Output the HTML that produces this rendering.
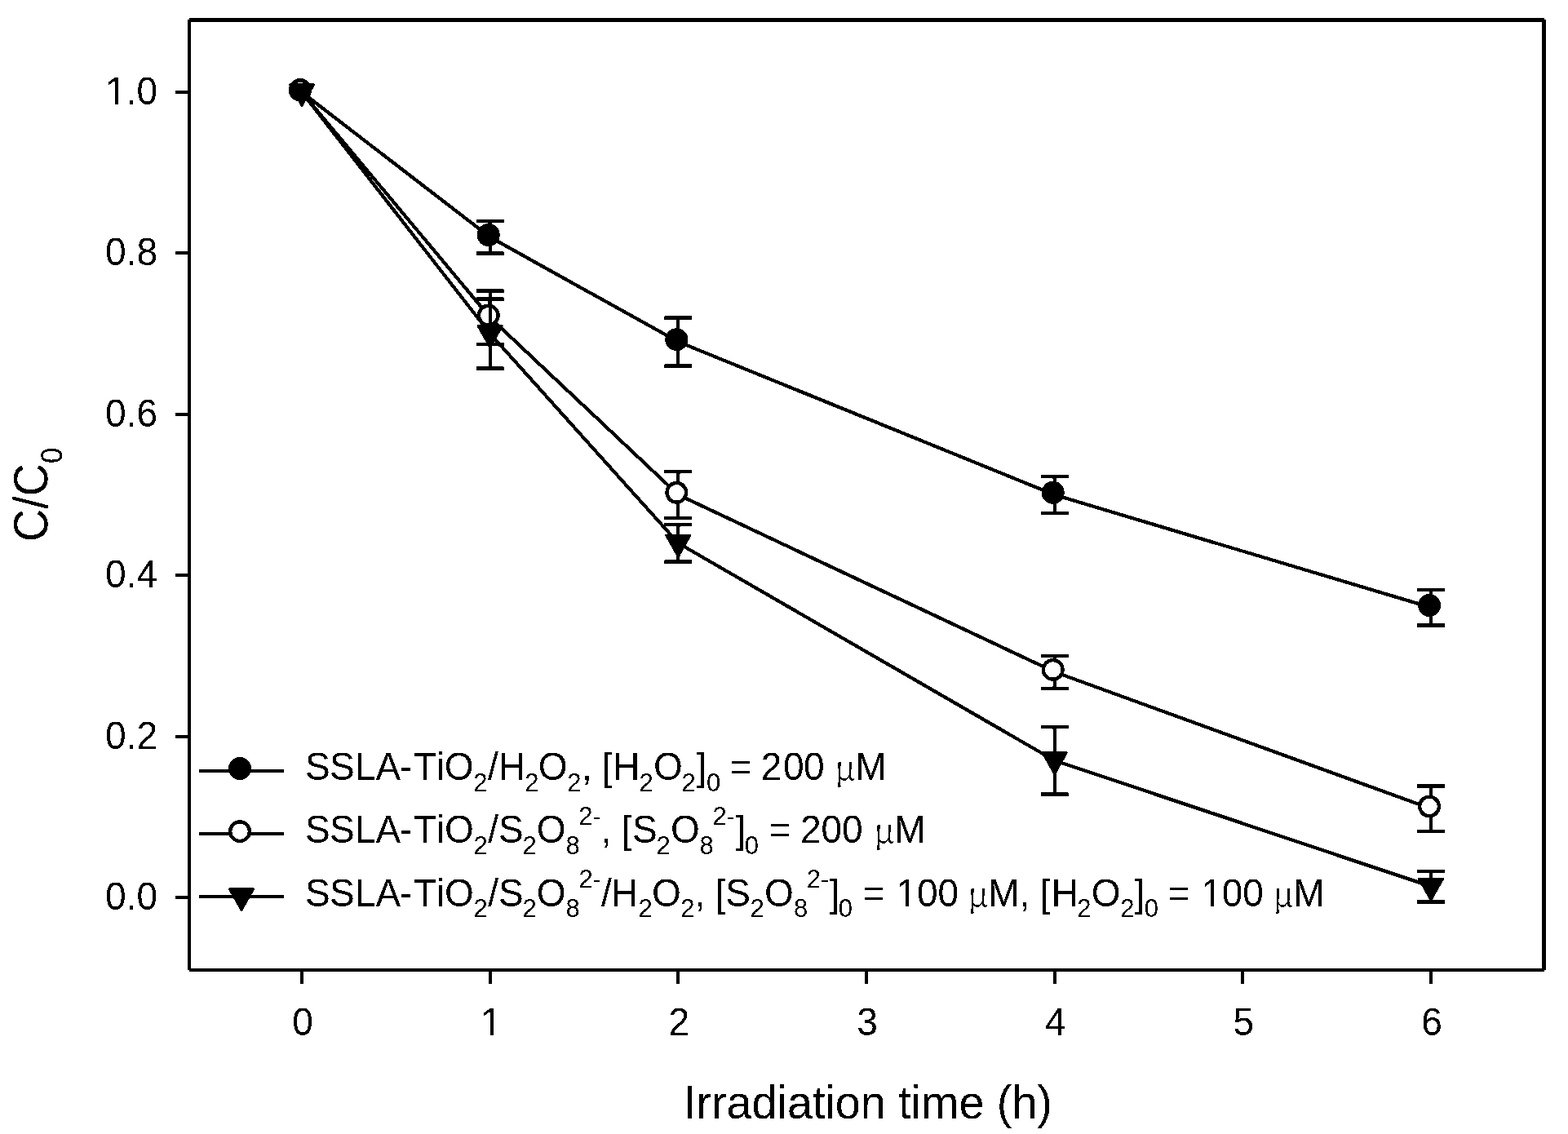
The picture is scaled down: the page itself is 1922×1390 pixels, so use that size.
<!DOCTYPE html><html><head><meta charset="utf-8"><style>html,body{margin:0;padding:0;background:#fff;}svg{display:block;}</style></head><body>
<svg width="1922" height="1390" viewBox="0 0 1922 1390">
<rect x="0" y="0" width="1922" height="1390" fill="#fff"/>
<defs><filter id="crisp" x="0" y="0" width="1922" height="1390" filterUnits="userSpaceOnUse" color-interpolation-filters="sRGB"><feComponentTransfer><feFuncR type="discrete" tableValues="0 1"/><feFuncG type="discrete" tableValues="0 1"/><feFuncB type="discrete" tableValues="0 1"/><feFuncA type="discrete" tableValues="0 1"/></feComponentTransfer></filter></defs>
<g filter="url(#crisp)">
<g fill="#000" shape-rendering="crispEdges">
<rect x="232" y="22" width="1661" height="5"/>
<rect x="232" y="1187" width="1661" height="4"/>
<rect x="230" y="24" width="4" height="1165"/>
<rect x="1890" y="24" width="5" height="1165"/>
<rect x="215" y="1098.0" width="15" height="4"/>
<rect x="215" y="900.6" width="15" height="4"/>
<rect x="215" y="703.2" width="15" height="4"/>
<rect x="215" y="505.8" width="15" height="4"/>
<rect x="215" y="308.4" width="15" height="4"/>
<rect x="215" y="111.0" width="15" height="4"/>
<rect x="368.0" y="1191" width="4" height="15"/>
<rect x="598.7" y="1191" width="4" height="15"/>
<rect x="829.3" y="1191" width="4" height="15"/>
<rect x="1060.0" y="1191" width="4" height="15"/>
<rect x="1290.7" y="1191" width="4" height="15"/>
<rect x="1521.3" y="1191" width="4" height="15"/>
<rect x="1752.0" y="1191" width="4" height="15"/>
</g>
<g font-family="Liberation Sans, Arial, sans-serif" font-size="46" fill="#000">
<text x="193" y="1115.0" text-anchor="end" transform="matrix(1 0 0 1.03 0 -33.45)">0.0</text>
<text x="193" y="917.6" text-anchor="end" transform="matrix(1 0 0 1.03 0 -27.53)">0.2</text>
<text x="193" y="720.2" text-anchor="end" transform="matrix(1 0 0 1.03 0 -21.61)">0.4</text>
<text x="193" y="522.8" text-anchor="end" transform="matrix(1 0 0 1.03 0 -15.68)">0.6</text>
<text x="193" y="325.4" text-anchor="end" transform="matrix(1 0 0 1.03 0 -9.76)">0.8</text>
<text x="193" y="128.0" text-anchor="end" transform="matrix(1 0 0 1.03 0 -3.84)">1.0</text>
<text x="371.0" y="1269" text-anchor="middle" transform="matrix(1 0 0 1.03 0 -38.07)">0</text>
<text x="601.7" y="1269" text-anchor="middle" transform="matrix(1 0 0 1.03 0 -38.07)">1</text>
<text x="832.3" y="1269" text-anchor="middle" transform="matrix(1 0 0 1.03 0 -38.07)">2</text>
<text x="1063.0" y="1269" text-anchor="middle" transform="matrix(1 0 0 1.03 0 -38.07)">3</text>
<text x="1293.7" y="1269" text-anchor="middle" transform="matrix(1 0 0 1.03 0 -38.07)">4</text>
<text x="1524.3" y="1269" text-anchor="middle" transform="matrix(1 0 0 1.03 0 -38.07)">5</text>
<text x="1755.0" y="1269" text-anchor="middle" transform="matrix(1 0 0 1.03 0 -38.07)">6</text>
</g>
<text font-family="Liberation Sans, Arial, sans-serif" font-size="55.7" x="1064" y="1370.7" text-anchor="middle" transform="matrix(1 0 0 1.03 0 -41.12)">Irradiation time (h)</text>
<text font-family="Liberation Sans, Arial, sans-serif" font-size="55.7" transform="translate(58.7,664) rotate(-90) scale(1,1.065)">C/C<tspan font-size="34.8" dy="16.4">0</tspan></text>
<polyline points="370.0,113.0 600.7,290.7 831.3,418.9 1292.7,606.5 1754.0,744.7" fill="none" stroke="#000" stroke-width="4.2" stroke-linejoin="miter"/>
<polyline points="370.0,113.0 600.7,389.2 831.3,606.5 1292.7,823.6 1754.0,991.2" fill="none" stroke="#000" stroke-width="4.2" stroke-linejoin="miter"/>
<polyline points="370.0,113.0 600.7,409.0 831.3,665.7 1292.7,932.2 1754.0,1086.6" fill="none" stroke="#000" stroke-width="4.2" stroke-linejoin="miter"/>
<g fill="#000">
<rect x="598.7" y="356.5" width="4" height="65.5"/>
<rect x="583.7" y="354.5" width="34" height="4.4"/>
<rect x="583.7" y="420.0" width="34" height="4.4"/>
<rect x="829.3" y="578.0" width="4" height="57.0"/>
<rect x="814.3" y="576.0" width="34" height="4.4"/>
<rect x="814.3" y="633.0" width="34" height="4.4"/>
<rect x="1290.7" y="803.6" width="4" height="40.0"/>
<rect x="1275.7" y="801.6" width="34" height="4.4"/>
<rect x="1275.7" y="841.6" width="34" height="4.4"/>
<rect x="1752.0" y="963.4" width="4" height="55.6"/>
<rect x="1737.0" y="961.4" width="34" height="4.4"/>
<rect x="1737.0" y="1017.0" width="34" height="4.4"/>
</g>
<circle cx="368.0" cy="110.3" r="11.85" fill="#fff" stroke="#000" stroke-width="4.3"/>
<circle cx="598.7" cy="386.6" r="11.85" fill="#fff" stroke="#000" stroke-width="4.3"/>
<circle cx="829.3" cy="603.8" r="11.85" fill="#fff" stroke="#000" stroke-width="4.3"/>
<circle cx="1290.7" cy="820.9" r="11.85" fill="#fff" stroke="#000" stroke-width="4.3"/>
<circle cx="1752.0" cy="988.5" r="11.85" fill="#fff" stroke="#000" stroke-width="4.3"/>
<g fill="#000">
<rect x="598.7" y="366.5" width="4" height="85.0"/>
<rect x="583.7" y="364.5" width="34" height="4.4"/>
<rect x="583.7" y="449.5" width="34" height="4.4"/>
<rect x="829.3" y="643.0" width="4" height="45.4"/>
<rect x="814.3" y="641.0" width="34" height="4.4"/>
<rect x="814.3" y="686.4" width="34" height="4.4"/>
<rect x="1290.7" y="891.0" width="4" height="82.4"/>
<rect x="1275.7" y="889.0" width="34" height="4.4"/>
<rect x="1275.7" y="971.4" width="34" height="4.4"/>
<rect x="1752.0" y="1067.9" width="4" height="37.4"/>
<rect x="1737.0" y="1065.9" width="34" height="4.4"/>
<rect x="1737.0" y="1103.3" width="34" height="4.4"/>
</g>
<path d="M354.8,103.4H385.2L370.0,130.3Z" fill="#000" stroke="#000" stroke-width="2" stroke-linejoin="round"/>
<path d="M585.5,399.4H615.9L600.7,426.3Z" fill="#000" stroke="#000" stroke-width="2" stroke-linejoin="round"/>
<path d="M816.1,656.1H846.5L831.3,683.0Z" fill="#000" stroke="#000" stroke-width="2" stroke-linejoin="round"/>
<path d="M1277.5,922.6H1307.9L1292.7,949.5Z" fill="#000" stroke="#000" stroke-width="2" stroke-linejoin="round"/>
<path d="M1738.8,1077.0H1769.2L1754.0,1103.9Z" fill="#000" stroke="#000" stroke-width="2" stroke-linejoin="round"/>
<g fill="#000">
<rect x="598.7" y="271.0" width="4" height="39.4"/>
<rect x="583.7" y="269.0" width="34" height="4.4"/>
<rect x="583.7" y="308.4" width="34" height="4.4"/>
<rect x="829.3" y="389.4" width="4" height="59.0"/>
<rect x="814.3" y="387.4" width="34" height="4.4"/>
<rect x="814.3" y="446.4" width="34" height="4.4"/>
<rect x="1290.7" y="584.0" width="4" height="45.0"/>
<rect x="1275.7" y="582.0" width="34" height="4.4"/>
<rect x="1275.7" y="627.0" width="34" height="4.4"/>
<rect x="1752.0" y="723.0" width="4" height="43.4"/>
<rect x="1737.0" y="721.0" width="34" height="4.4"/>
<rect x="1737.0" y="764.4" width="34" height="4.4"/>
</g>
<circle cx="368.0" cy="110.3" r="14" fill="#000"/>
<circle cx="598.7" cy="288.0" r="14" fill="#000"/>
<circle cx="829.3" cy="416.2" r="14" fill="#000"/>
<circle cx="1290.7" cy="603.8" r="14" fill="#000"/>
<circle cx="1752.0" cy="742.0" r="14" fill="#000"/>
<rect x="244" y="942.7" width="104" height="4.2" fill="#000"/>
<rect x="244" y="1019.8" width="104" height="4.2" fill="#000"/>
<rect x="244" y="1096.9" width="104" height="4.2" fill="#000"/>
<circle cx="294.0" cy="942.1" r="14" fill="#000"/>
<circle cx="294.0" cy="1019.2" r="11.85" fill="#fff" stroke="#000" stroke-width="4.3"/>
<path d="M280.8,1089.4H311.2L296.0,1116.3Z" fill="#000" stroke="#000" stroke-width="2" stroke-linejoin="round"/>
<text font-family="Liberation Sans, Arial, sans-serif" font-size="46" xml:space="preserve" transform="matrix(1 0 0 1.03 0 -28.68)"><tspan x="373.91 404.11 435.23 460.41 489.96 506.87 535.02 544.72" y="955.9">SSLA-TiO</tspan><tspan x="580.34" y="969.49" font-size="31">2</tspan><tspan x="598.00 611.03" y="955.9">/H</tspan><tspan x="643.24" y="969.49" font-size="31">2</tspan><tspan x="659.82" y="955.9">O</tspan><tspan x="695.24" y="969.49" font-size="31">2</tspan><tspan x="712.97 725.75" y="955.9">, </tspan><tspan x="737.96" y="955.9" font-size="44">[</tspan><tspan x="751.23" y="955.9">H</tspan><tspan x="783.54" y="969.49" font-size="31">2</tspan><tspan x="800.92" y="955.9">O</tspan><tspan x="835.54" y="969.49" font-size="31">2</tspan><tspan x="853.76" y="955.9" font-size="44">]</tspan><tspan x="865.89" y="969.49" font-size="31">0</tspan><tspan x="894.65 921.52 932.69 960.10 985.10 1010.69" y="955.9">= 200 </tspan><tspan x="1023.15" y="955.9" font-size="40" font-family="Noto Serif CJK SC, Liberation Serif, serif">&#956;</tspan><tspan x="1048.23" y="955.9">M</tspan></text>
<text font-family="Liberation Sans, Arial, sans-serif" font-size="46" xml:space="preserve" transform="matrix(1 0 0 1.03 0 -30.98)"><tspan x="373.91 404.11 435.23 460.41 489.96 506.87 535.02 544.92" y="1032.8">SSLA-TiO</tspan><tspan x="580.54" y="1046.39" font-size="31">2</tspan><tspan x="598.30 611.01" y="1032.8">/S</tspan><tspan x="640.44" y="1046.39" font-size="31">2</tspan><tspan x="657.82" y="1032.8">O</tspan><tspan x="693.45" y="1046.39" font-size="31">8</tspan><tspan x="709.34 726.52" y="1011.44" font-size="31">2-</tspan><tspan x="736.67 749.45" y="1032.8">, </tspan><tspan x="761.86" y="1032.8" font-size="44">[</tspan><tspan x="775.01" y="1032.8">S</tspan><tspan x="804.54" y="1046.39" font-size="31">2</tspan><tspan x="821.92" y="1032.8">O</tspan><tspan x="857.55" y="1046.39" font-size="31">8</tspan><tspan x="873.54 890.52" y="1011.44" font-size="31">2-</tspan><tspan x="901.46" y="1032.8" font-size="44">]</tspan><tspan x="912.79" y="1046.39" font-size="31">0</tspan><tspan x="942.75 969.62 980.89 1006.47 1032.05 1057.64" y="1032.8">= 200 </tspan><tspan x="1071.35" y="1032.8" font-size="40" font-family="Noto Serif CJK SC, Liberation Serif, serif">&#956;</tspan><tspan x="1096.13" y="1032.8">M</tspan></text>
<text font-family="Liberation Sans, Arial, sans-serif" font-size="46" xml:space="preserve" transform="matrix(1 0 0 1.03 0 -33.32)"><tspan x="373.91 404.11 435.23 460.41 489.96 506.87 535.02 544.92" y="1110.8">SSLA-TiO</tspan><tspan x="580.54" y="1123.62" font-size="31">2</tspan><tspan x="598.30 611.01" y="1110.8">/S</tspan><tspan x="640.44" y="1123.62" font-size="31">2</tspan><tspan x="657.82" y="1110.8">O</tspan><tspan x="693.55" y="1123.62" font-size="31">8</tspan><tspan x="709.44 726.32" y="1088.66" font-size="31">2-</tspan><tspan x="737.00 749.03" y="1110.8">/H</tspan><tspan x="782.44" y="1123.62" font-size="31">2</tspan><tspan x="799.02" y="1110.8">O</tspan><tspan x="834.34" y="1123.62" font-size="31">2</tspan><tspan x="851.77 864.55" y="1110.8">, </tspan><tspan x="876.96" y="1110.8" font-size="44">[</tspan><tspan x="889.21" y="1110.8">S</tspan><tspan x="919.54" y="1123.62" font-size="31">2</tspan><tspan x="936.92" y="1110.8">O</tspan><tspan x="972.95" y="1123.62" font-size="31">8</tspan><tspan x="988.64 1005.72" y="1088.66" font-size="31">2-</tspan><tspan x="1016.66" y="1110.8" font-size="44">]</tspan><tspan x="1027.79" y="1123.62" font-size="31">0</tspan><tspan x="1057.85 1084.72 1098.40 1123.98 1149.56 1175.15" y="1110.8">= 100 </tspan><tspan x="1186.35" y="1110.8" font-size="40" font-family="Noto Serif CJK SC, Liberation Serif, serif">&#956;</tspan><tspan x="1211.03 1249.67 1262.45" y="1110.8">M, </tspan><tspan x="1274.86" y="1110.8" font-size="44">[</tspan><tspan x="1288.43" y="1110.8">H</tspan><tspan x="1320.34" y="1123.62" font-size="31">2</tspan><tspan x="1337.82" y="1110.8">O</tspan><tspan x="1373.34" y="1123.62" font-size="31">2</tspan><tspan x="1390.96" y="1110.8" font-size="44">]</tspan><tspan x="1402.69" y="1123.62" font-size="31">0</tspan><tspan x="1431.65 1458.52 1472.20 1497.78 1523.36 1548.95" y="1110.8">= 100 </tspan><tspan x="1560.45" y="1110.8" font-size="40" font-family="Noto Serif CJK SC, Liberation Serif, serif">&#956;</tspan><tspan x="1585.03" y="1110.8">M</tspan></text>
<rect x="365" y="100.9" width="6" height="1.1" fill="#fff"/>
<rect x="131.36" y="124.06" width="9.46" height="5.14" fill="#fff"/>
<rect x="144.74" y="124.06" width="8.90" height="5.14" fill="#fff"/>
<rect x="591.18" y="1265.06" width="9.46" height="5.14" fill="#fff"/>
<rect x="604.56" y="1265.06" width="8.90" height="5.14" fill="#fff"/>
<rect x="1100.70" y="1106.86" width="9.46" height="5.14" fill="#fff"/>
<rect x="1114.08" y="1106.86" width="8.90" height="5.14" fill="#fff"/>
<rect x="1474.50" y="1106.86" width="9.46" height="5.14" fill="#fff"/>
<rect x="1487.88" y="1106.86" width="8.90" height="5.14" fill="#fff"/>
</g>
</svg></body></html>
